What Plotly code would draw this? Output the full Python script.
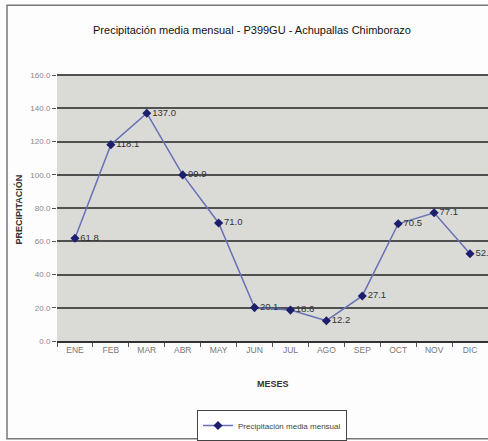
import plotly.graph_objects as go

meses = ["ENE", "FEB", "MAR", "ABR", "MAY", "JUN", "JUL", "AGO", "SEP", "OCT", "NOV", "DIC"]
precipitacion = [61.8, 118.1, 137.0, 99.9, 71.0, 20.1, 18.6, 12.2, 27.1, 70.5, 77.1, 52.5]
etiquetas = [f"{v:.1f}" for v in precipitacion]

FONT = "Liberation Sans, Arial, sans-serif"

W, H = 488, 441
L, R, T, B = 57, 0, 75, 99
pw = W - L - R
ph = H - T - B

def px(x):
    return (x - L) / pw

def py(y):
    return (H - B - y) / ph

fig = go.Figure()
fig.add_trace(go.Scatter(
    x=meses, y=precipitacion,
    mode="lines+markers+text",
    name="Precipitación media mensual",
    line=dict(color="#6a70b5", width=1.5),
    marker=dict(symbol="diamond", size=7, color="#1c1f6b"),
    text=etiquetas, textposition="middle right",
    textfont=dict(family=FONT, size=9.5, color="#333333"),
    cliponaxis=False,
))

fig.update_layout(
    width=W, height=H,
    margin=dict(l=L, r=R, t=T, b=B),
    paper_bgcolor="#fdfdfd",
    plot_bgcolor="#dadbd7",
    showlegend=True,
    title=dict(
        text="Precipitación media mensual - P399GU - Achupallas Chimborazo",
        x=252 / W, xanchor="center", y=1 - 30 / H, yanchor="middle",
        font=dict(family=FONT, size=11, color="#111111"),
    ),
    legend=dict(
        orientation="h", x=px(272), xanchor="center", y=py(411), yanchor="top",
        bordercolor="#444444", borderwidth=1, bgcolor="#ffffff",
        font=dict(family=FONT, size=8, color="#444444"),
        itemwidth=30, tracegroupgap=0,
    ),
    xaxis=dict(
        type="category", range=[-0.5, 11.5],
        showgrid=False, showline=True, linecolor="#333333", linewidth=2,
        ticks="outside", tickson="boundaries", ticklen=4, tickcolor="#555555",
        tickfont=dict(family=FONT, size=8.5, color="#777777"),
    ),
    yaxis=dict(
        range=[0, 160], dtick=20, tickformat=".1f",
        showgrid=True, gridcolor="#505050", gridwidth=2,
        showline=False, zeroline=False,
        ticks="outside", ticklen=4, tickcolor="#555555",
        tickfont=dict(family=FONT, size=8, color="#888888"),
    ),
    shapes=[
        dict(type="rect", xref="paper", yref="paper",
             x0=px(7), x1=px(500), y0=py(440), y1=py(5),
             line=dict(color="#777777", width=1.5), layer="below"),
        dict(type="line", xref="paper", yref="paper",
             x0=0, x1=1, y0=1, y1=1, line=dict(color="#505050", width=2)),
    ],
    annotations=[
        dict(text="<b>MESES</b>", xref="paper", yref="paper", x=px(273), y=py(385),
             showarrow=False, xanchor="center", yanchor="middle",
             font=dict(family=FONT, size=9, color="#333333")),
        dict(text="<b>PRECIPITACIÓN</b>", xref="paper", yref="paper", x=px(18), y=py(210),
             showarrow=False, xanchor="center", yanchor="middle", textangle=-90,
             font=dict(family=FONT, size=9, color="#333333")),
    ],
)

fig.write_html(
    "out.html",
    config={"displayModeBar": False},
    post_script="document.body.style.margin='0';document.body.style.overflow='hidden';",
)
